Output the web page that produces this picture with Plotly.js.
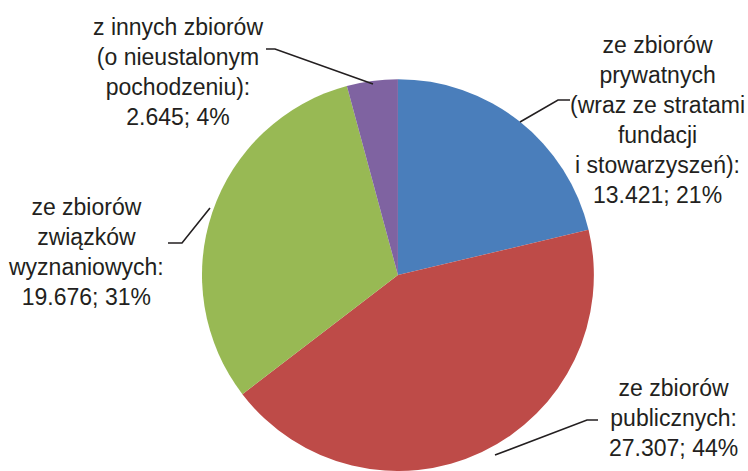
<!DOCTYPE html>
<html>
<head>
<meta charset="utf-8">
<script src="https://cdn.plot.ly/plotly-3.0.1.min.js"></script>
<style>
  html, body { margin: 0; padding: 0; background: #fff; }
  #chart { width: 748px; height: 471px; }
</style>
</head>
<body>
<div id="chart"></div>
<script>
// Straty wg pochodzenia zbiorów — pie with outside labels and leader lines.
const categories = [
  "ze zbiorów<br>prywatnych<br>(wraz ze stratami<br>fundacji<br>i stowarzyszeń):",
  "ze zbiorów<br>publicznych:",
  "ze zbiorów<br>związków<br>wyznaniowych:",
  "z innych zbiorów<br>(o nieustalonym<br>pochodzeniu):"
];
const values = [13421, 27307, 19676, 2645];
const valueLabels = ["13.421", "27.307", "19.676", "2.645"];
const percentLabels = ["21%", "44%", "31%", "4%"];
const colors = ["#4a7ebb", "#be4b48", "#98b954", "#7f63a1"];

const W = 748, H = 471;
const px = (x) => x / W;
const py = (y) => 1 - y / H;

// label placement (pixel centres) and leader line paths
const labelPos = [[657, 120], [673, 418], [86, 252], [178, 72]];
const leaders = [
  [[520, 122], [558, 100], [570, 100]],
  [[495, 455], [587, 420], [598, 420]],
  [[210, 208], [182, 243], [168, 243]],
  [[373, 84], [275, 49], [266, 49]]
];

const font = { family: "Liberation Sans, Arial, sans-serif", size: 23, color: "#231f20" };

const annotations = categories.map((c, i) => ({
  xref: "paper", yref: "paper",
  x: px(labelPos[i][0]), y: py(labelPos[i][1]),
  xanchor: "center", yanchor: "middle", align: "center",
  showarrow: false,
  text: `${c}<br>${valueLabels[i]}; ${percentLabels[i]}`,
  font
}));

const shapes = leaders.map(pts => ({
  type: "path", xref: "paper", yref: "paper",
  path: "M " + pts.map(p => `${px(p[0])},${py(p[1])}`).join(" L "),
  line: { color: "#231f20", width: 1.6 }
}));

Plotly.newPlot("chart", [{
  type: "pie",
  values: values,
  labels: categories,
  sort: false,
  direction: "clockwise",
  rotation: 0,
  textinfo: "none",
  hoverinfo: "none",
  marker: { colors: colors, line: { color: "#ffffff", width: 0 } },
  domain: { x: [0.2, 0.864], y: [0, 0.832] }
}], {
  width: W, height: H,
  margin: { l: 0, r: 0, t: 0, b: 0 },
  paper_bgcolor: "#ffffff",
  showlegend: false,
  annotations: annotations,
  shapes: shapes
}, { displayModeBar: false, staticPlot: true });
</script>
</body>
</html>
